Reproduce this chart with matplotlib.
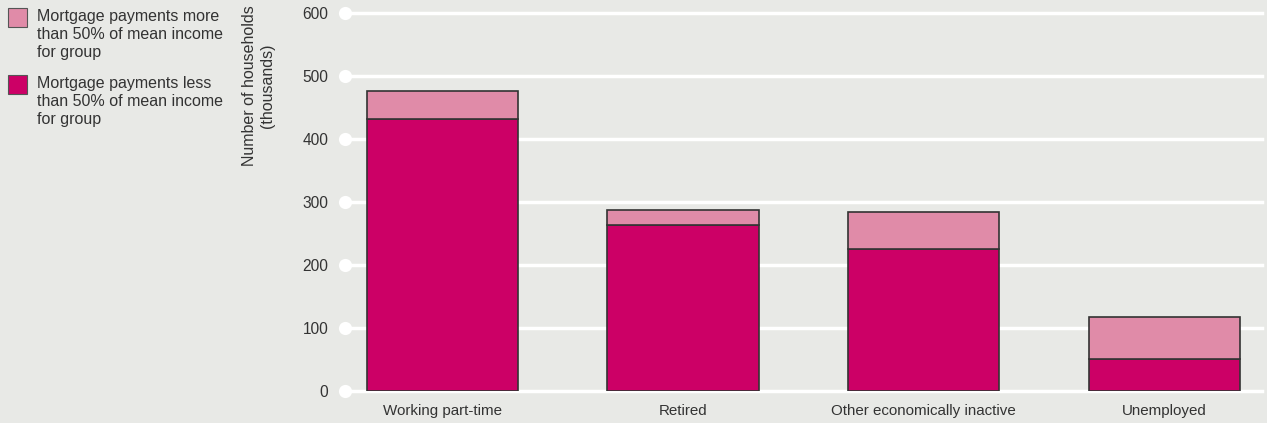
import matplotlib
matplotlib.use("Agg")
import matplotlib.pyplot as plt
import numpy as np

plt.rcParams['font.family'] = ['Liberation Sans', 'DejaVu Sans']

categories = ["Working part-time", "Retired", "Other economically inactive", "Unemployed"]
less_than_50 = [432, 263, 225, 51]
more_than_50 = [44, 24, 59, 66]
y_ticks = [0, 100, 200, 300, 400, 500, 600]

BG = "#e8e9e6"
DARK = "#cc0066"
LIGHT = "#e08ba8"
EDGE = "#333333"
TXT = "#333333"

W, H = 1267, 423
fig = plt.figure(figsize=(W / 100, H / 100), dpi=100, facecolor=BG)
ax = fig.add_axes([345 / W, 1 - 391 / H, (1262 - 345) / W, (391 - 13) / H])
ax.set_facecolor(BG)

x = np.arange(len(categories))
ax.set_xlim(-0.405, 3.407)
ax.set_ylim(0, 600)

for yt in y_ticks:
    ax.axhline(yt, color="white", lw=2.5, zorder=1, clip_on=False)
ax.scatter([-0.405] * len(y_ticks), y_ticks, s=90, color="white", zorder=2, clip_on=False, linewidths=0)

bw = 0.628
ax.bar(x, less_than_50, width=bw, color=DARK, edgecolor=EDGE, linewidth=1.2, zorder=3)
ax.bar(x, more_than_50, width=bw, bottom=less_than_50, color=LIGHT, edgecolor=EDGE, linewidth=1.2, zorder=3)

for s in ax.spines.values():
    s.set_visible(False)
ax.set_yticks(y_ticks)
ax.set_yticklabels([str(v) for v in y_ticks], fontsize=11.2, color=TXT)
ax.tick_params(axis='y', length=0, pad=12)
ax.set_xticks(x)
ax.set_xticklabels(categories, fontsize=10.9, color=TXT)
ax.tick_params(axis='x', length=0, pad=9)

fig.text(259 / W, 1 - 5 / H, "Number of households\n(thousands)", rotation=90,
         ha="center", va="top", fontsize=11.5, color=TXT, multialignment="center",
         linespacing=1.25)

# legend
legend_items = [(LIGHT, "Mortgage payments more\nthan 50% of mean income\nfor group", 8),
                (DARK, "Mortgage payments less\nthan 50% of mean income\nfor group", 75)]
for col, label, ytop in legend_items:
    fig.patches.append(plt.Rectangle((8 / W, 1 - (ytop + 19) / H), 19 / W, 19 / H,
                                     transform=fig.transFigure, facecolor=col,
                                     edgecolor="#555555", linewidth=0.8, figure=fig))
    fig.text(37 / W, 1 - (ytop + 1) / H, label, ha="left", va="top", fontsize=11.5,
             color=TXT, linespacing=1.25)

fig.savefig("out.png", dpi=100, facecolor=BG)
